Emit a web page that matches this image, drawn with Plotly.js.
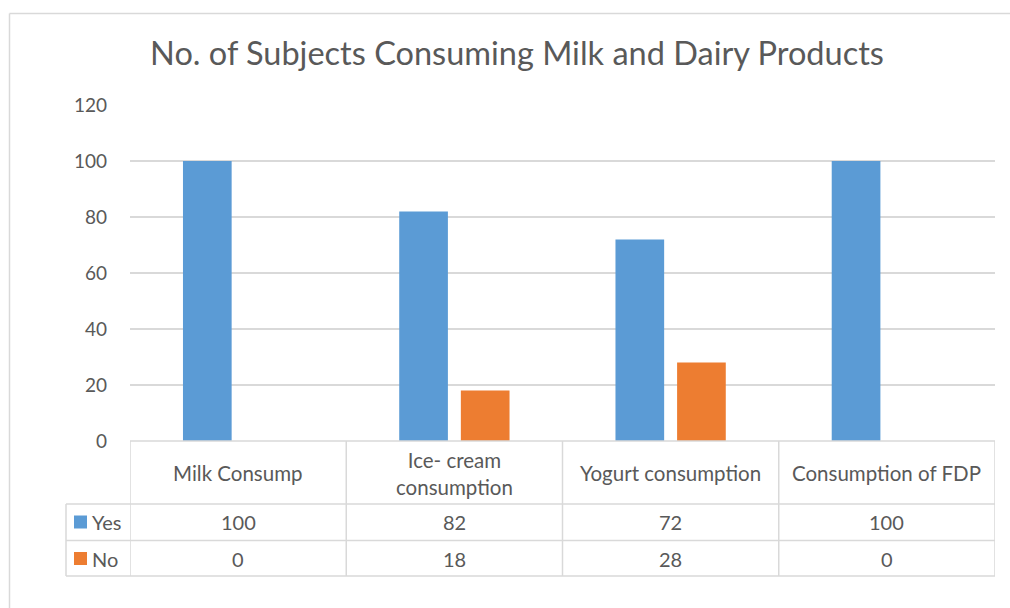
<!DOCTYPE html>
<html>
<head>
<meta charset="utf-8">
<script src="https://cdn.plot.ly/plotly-3.0.1.min.js"></script>
<style>
html,body{margin:0;padding:0;background:#fff;}
#chart{width:1010px;height:608px;}
</style>
</head>
<body>
<div id="chart"></div>
<script>
const categories = ["Milk Consump", "Ice- cream<br>consumption", "Yogurt consumption", "Consumption of FDP"];
const seriesNames = ["Yes", "No"];
const yesValues = [100, 82, 72, 100];
const noValues = [0, 18, 28, 0];
const colors = ["#5b9bd5", "#ed7d31"];

const W = 1010, H = 608;
const L = 130, R = 995, T = 105, B = 441;
const px = x => (x - L) / (R - L);
const py = y => (B - y) / (B - T);
const txt = "#595959";
const grid = "#d9d9d9";
const FONT = "Lato, 'Open Sans', sans-serif";

const idx = categories.map((c, i) => i);

const traces = [
  {type: "bar", name: seriesNames[0], x: idx, y: yesValues, marker: {color: colors[0]}, hoverinfo: "y"},
  {type: "bar", name: seriesNames[1], x: idx, y: noValues, marker: {color: colors[1]}, hoverinfo: "y"}
];

const shapes = [];
const annotations = [];
const line = {color: grid, width: 1.5};
// chart border (left & top)
shapes.push({type: "line", xref: "paper", yref: "paper", x0: px(9.5), x1: px(1010), y0: py(13.5), y1: py(13.5), line: {color: "#d9d9d9", width: 1.5}});
shapes.push({type: "line", xref: "paper", yref: "paper", x0: px(9.5), x1: px(9.5), y0: py(13.5), y1: py(608), line: {color: "#d9d9d9", width: 1.5}});

// table horizontal lines
const rowTops = [504, 540.5, 576];
shapes.push({type: "line", xref: "x", yref: "paper", x0: -0.5, x1: categories.length - 0.5, y0: 0, y1: 0, line});
rowTops.forEach(y => shapes.push({type: "line", xref: "paper", yref: "paper", x0: px(66), x1: 1, y0: py(y), y1: py(y), line}));
// vertical lines
for (let i = 0; i <= categories.length; i++) {
  shapes.push({type: "line", xref: "x", yref: "paper", x0: i - 0.5, x1: i - 0.5, y0: 0, y1: py(576), line});
}
shapes.push({type: "line", xref: "paper", yref: "paper", x0: px(66), x1: px(66), y0: py(504), y1: py(576), line});

// category labels
categories.forEach((c, i) => {
  annotations.push({xref: "x", yref: "paper", x: i, y: py(473), text: c, showarrow: false,
    xanchor: "center", yanchor: "middle", font: {family: FONT, size: 20.5, color: txt}});
});
// values rows
const rows = [yesValues, noValues];
const rowCenters = [522, 558.5];
rows.forEach((vals, r) => {
  vals.forEach((v, i) => {
    annotations.push({xref: "x", yref: "paper", x: i, y: py(rowCenters[r]), text: String(v), showarrow: false,
      xanchor: "center", yanchor: "middle", font: {family: FONT, size: 20, color: txt}});
  });
  // legend key
  shapes.push({type: "rect", xref: "paper", yref: "paper", x0: px(74), x1: px(87),
    y0: py(rowCenters[r] - 6.5), y1: py(rowCenters[r] + 6.5), fillcolor: colors[r], line: {width: 0}});
  annotations.push({xref: "paper", yref: "paper", x: px(90), y: py(rowCenters[r]), text: seriesNames[r], showarrow: false,
    xanchor: "left", yanchor: "middle", font: {family: FONT, size: 20, color: txt}});
});

const layout = {
  width: W, height: H,
  margin: {l: L, r: W - R, t: T, b: H - B},
  paper_bgcolor: "#fff", plot_bgcolor: "#fff",
  showlegend: false,
  barmode: "group",
  bargap: 0.43,
  bargroupgap: 0.21,
  title: {text: "No. of Subjects Consuming Milk and Dairy Products", x: 517 / W, xanchor: "center",
    y: 1 - 54 / H, yanchor: "middle", font: {family: FONT, size: 32.5, color: txt}},
  xaxis: {type: "linear", range: [-0.5, categories.length - 0.5], showticklabels: false, showgrid: false,
    zeroline: false, showline: false, ticks: "", fixedrange: true},
  yaxis: {range: [0, 120], dtick: 20, tick0: 0, showgrid: true, gridcolor: grid, gridwidth: 1.5,
    zeroline: false, showline: false, ticks: "", ticklabelstandoff: 22,
    tickfont: {family: FONT, size: 19, color: txt}, fixedrange: true},
  shapes, annotations,
  font: {family: FONT, color: txt}
};

Plotly.newPlot("chart", traces, layout, {displayModeBar: false, staticPlot: true});
</script>
</body>
</html>
